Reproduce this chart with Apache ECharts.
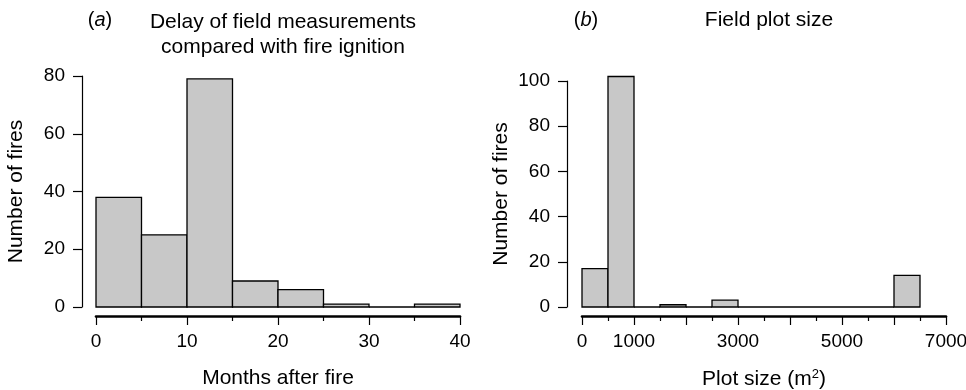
<!DOCTYPE html>
<html>
<head>
<meta charset="utf-8">
<script src="https://cdn.jsdelivr.net/npm/echarts@6/dist/echarts.min.js"></script>
<style>
  html, body { margin: 0; padding: 0; background: #fff; }
  #chart { width: 966px; height: 390px; }
</style>
</head>
<body>
<div id="chart"></div>
<script>
// (a) delay of field measurements, 5-month bins
const delayBinStarts = [0, 5, 10, 15, 20, 25, 30, 35]
const delayBinEnds = [5, 10, 15, 20, 25, 30, 35, 40]
const delayCounts = [38, 25, 79, 9, 6, 1, 0, 1]
const delayTicks = [0, 10, 20, 30, 40]

// (b) field plot size, 500 m2 bins
const sizeBinStarts = [0, 500, 1000, 1500, 2000, 2500, 3000, 3500, 4000, 4500, 5000, 5500, 6000]
const sizeBinEnds = [500, 1000, 1500, 2000, 2500, 3000, 3500, 4000, 4500, 5000, 5500, 6000, 6500]
const sizeCounts = [17, 102, 0, 1, 0, 3, 0, 0, 0, 0, 0, 0, 14]
const sizeTickLabels = [0, 1000, 3000, 5000, 7000]

const FONT = "'Liberation Sans', Arial, Helvetica, sans-serif"
const BAR_FILL = '#c8c8c8'

const chart = echarts.init(document.getElementById('chart'))

function histData(starts, ends, counts) {
  return counts.map((c, i) => [starts[i], ends[i], c])
}

function renderBin(params, api) {
  const topLeft = api.coord([api.value(0), api.value(2)])
  const bottomRight = api.coord([api.value(1), 0])
  return {
    type: 'rect',
    shape: {
      x: topLeft[0],
      y: topLeft[1],
      width: bottomRight[0] - topLeft[0],
      height: bottomRight[1] - topLeft[1],
    },
    style: { fill: BAR_FILL, stroke: '#000', lineWidth: 1.3 },
  }
}

function xAxisCfg(gridIndex, max, interval, name, labelFmt) {
  return {
    type: 'value',
    gridIndex,
    min: 0,
    max,
    interval,
    offset: 9,
    name,
    nameLocation: 'middle',
    nameGap: 52,
    nameMoveOverlap: false,
    nameTextStyle: {
      color: '#000',
      fontSize: 21,
      fontFamily: FONT,
      rich: { sup: { fontSize: 13, verticalAlign: 'top', padding: [0, 0, 10, 0], color: '#000', fontFamily: FONT } },
    },
    axisLine: { onZero: false, lineStyle: { color: '#000', width: 2.6 } },
    axisTick: { length: 9, lineStyle: { color: '#000', width: 1.2 } },
    minorTick: { show: true, splitNumber: 2, length: 5, lineStyle: { color: '#000', width: 1.2 } },
    axisLabel: {
      color: '#000',
      fontSize: 19,
      fontFamily: FONT,
      margin: 16,
      showMinLabel: true,
      showMaxLabel: true,
      hideOverlap: false,
      formatter: labelFmt,
    },
    splitLine: { show: false },
  }
}

function yAxisCfg(gridIndex, max, offset) {
  return {
    type: 'value',
    gridIndex,
    min: 0,
    max,
    interval: 20,
    offset,
    name: 'Number of fires',
    nameLocation: 'middle',
    nameGap: 55,
    nameMoveOverlap: false,
    nameTextStyle: { color: '#000', fontSize: 21, fontFamily: FONT },
    axisLine: { show: true, onZero: false, lineStyle: { color: '#000', width: 1.2 } },
    axisTick: { show: true, length: 9, lineStyle: { color: '#000', width: 1.2 } },
    axisLabel: { color: '#000', fontSize: 19, fontFamily: FONT, margin: 17 },
    splitLine: { show: false },
  }
}

chart.setOption({
  backgroundColor: '#fff',
  animation: false,
  title: [
    {
      text: '({i|a})',
      left: 95,
      top: 5,
      textAlign: 'center',
      textStyle: {
        fontSize: 20, fontWeight: 'normal', color: '#000', fontFamily: FONT,
        rich: { i: { fontStyle: 'italic', fontSize: 20, color: '#000', fontFamily: FONT } },
      },
    },
    {
      text: 'Delay of field measurements\ncompared with fire ignition',
      left: 278,
      top: 5,
      textAlign: 'center',
      textStyle: { fontSize: 21, fontWeight: 'normal', color: '#000', fontFamily: FONT, lineHeight: 25 },
    },
    {
      text: '({i|b})',
      left: 581,
      top: 5,
      textAlign: 'center',
      textStyle: {
        fontSize: 20, fontWeight: 'normal', color: '#000', fontFamily: FONT,
        rich: { i: { fontStyle: 'italic', fontSize: 20, color: '#000', fontFamily: FONT } },
      },
    },
    {
      text: 'Field plot size',
      left: 764,
      top: 5,
      textAlign: 'center',
      textStyle: { fontSize: 21, fontWeight: 'normal', color: '#000', fontFamily: FONT },
    },
  ],
  grid: [
    { left: 96, right: 506, top: 76, bottom: 83, outerBoundsMode: 'none', containLabel: false },
    { left: 582, right: 20, top: 81, bottom: 83, outerBoundsMode: 'none', containLabel: false },
  ],
  xAxis: [
    xAxisCfg(0, 40, 10, 'Months after fire', (v) => (delayTicks.includes(v) ? String(v) : '')),
    xAxisCfg(1, 7000, 1000, 'Plot size (m{sup|2})', (v) => (sizeTickLabels.includes(v) ? String(v) : '')),
  ],
  yAxis: [yAxisCfg(0, 80, 14), yAxisCfg(1, 100, 15)],
  series: [
    {
      type: 'custom',
      xAxisIndex: 0,
      yAxisIndex: 0,
      clip: false,
      renderItem: renderBin,
      encode: { x: [0, 1], y: 2 },
      data: histData(delayBinStarts, delayBinEnds, delayCounts),
    },
    {
      type: 'custom',
      xAxisIndex: 1,
      yAxisIndex: 1,
      clip: false,
      renderItem: renderBin,
      encode: { x: [0, 1], y: 2 },
      data: histData(sizeBinStarts, sizeBinEnds, sizeCounts),
    },
  ],
})

window.addEventListener('resize', () => chart.resize())
</script>
</body>
</html>
